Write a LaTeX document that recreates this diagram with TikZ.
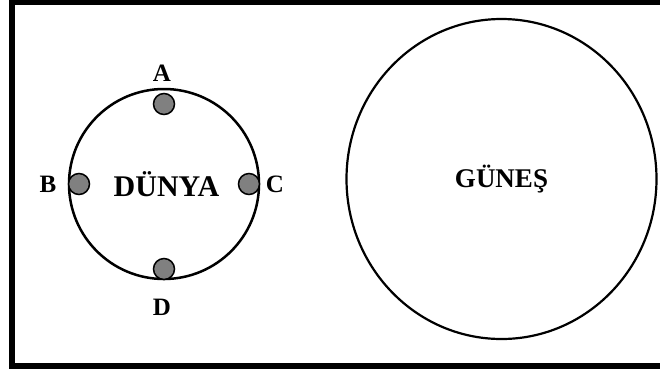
\documentclass[tikz,border=0pt]{standalone}
\usepackage{fontspec}
\setmainfont{Liberation Serif}
\usepackage{tikz}
\usetikzlibrary{
  calc,
  positioning,
  shapes.geometric
}
\tikzset{
  line cap=round,
  line join=round,
  frame/.style={draw, line width=6pt, line join=miter},
  planet/.style={draw, circle, line width=2.5pt, inner sep=0pt, font=\fontsize{30}{30}\selectfont\bfseries},
  star/.style={draw, ellipse, line width=2.2pt, inner sep=0pt, font=\fontsize{27}{27}\selectfont\bfseries},
  dot/.style={draw, circle, fill=gray, line width=1.5pt, minimum size=21pt, inner sep=0pt},
  lbl/.style={inner sep=0pt, font=\fontsize{25}{25}\selectfont\bfseries}
}

\begin{document}
\begin{tikzpicture}[x=1pt,y=-1pt]
  \useasboundingbox (0,0) rectangle (660,373);
  \clip (0,0) rectangle (660,373);

  % frame, right side falls outside the page
  \draw[frame] (12,2) rectangle (664,366);

  % earth and the four points on it
  \node[planet, minimum size=190pt] (dunya) at (164,184) {\hspace{5pt}DÜNYA};
  \node[dot, anchor=north, yshift=-5pt] (pA) at (dunya.north) {};
  \node[dot, anchor=west] (pB) at (dunya.west) {};
  \node[dot, anchor=east] (pC) at (dunya.east) {};
  \node[dot, anchor=south] (pD) at (dunya.south) {};

  \node[lbl] (lA) at (162,73) {A};
  \node[lbl] (lB) at (48,184) {B};
  \node[lbl] (lC) at (275,184) {C};
  \node[lbl] (lD) at (162,307) {D};

  % sun
  \node[star, minimum width=310pt, minimum height=320pt] (gunes) at (501.5,179) {GÜNEŞ};
\end{tikzpicture}
\end{document}
